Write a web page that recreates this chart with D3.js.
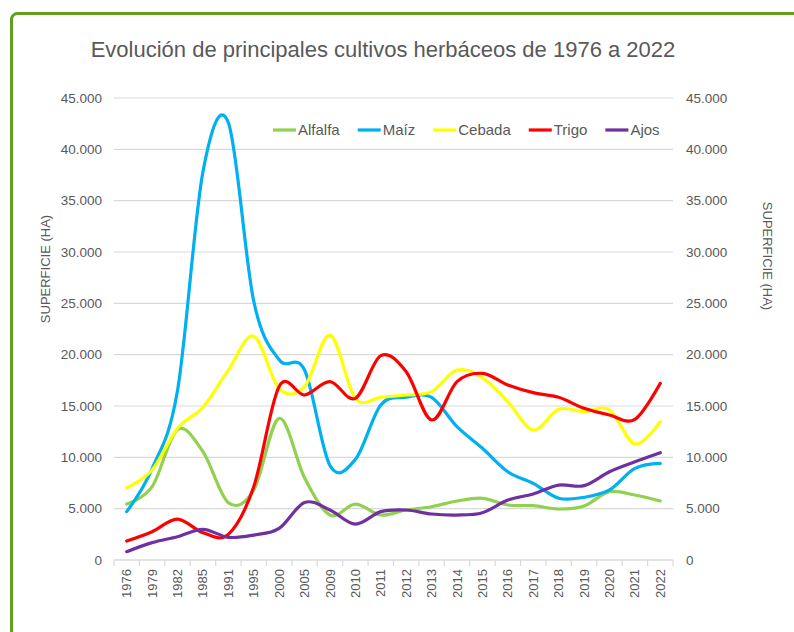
<!DOCTYPE html>
<html>
<head>
<meta charset="utf-8">
<script src="https://cdn.jsdelivr.net/npm/d3@7"></script>
<style>
  body { margin: 0; background: #fff; }
  text { font-family: "Liberation Sans", Arial, sans-serif; }
</style>
</head>
<body>
<svg id="chart" width="794" height="632"></svg>
<script>
const years = ["1976", "1979", "1982", "1985", "1991", "1995", "2000", "2005", "2009", "2010", "2011",
  "2012", "2013", "2014", "2015", "2016", "2017", "2018", "2019", "2020", "2021", "2022"];

const alfalfa = [5450, 7140, 12700, 10550, 5580, 6800, 13800, 8000, 4380, 5450, 4380,
  4870, 5190, 5750, 6010, 5360, 5290, 4970, 5260, 6650, 6330, 5750];
const maiz = [4710, 8900, 16500, 37800, 42600, 25200, 19500, 18500, 9200, 9800, 15100,
  15850, 15850, 12980, 10880, 8600, 7470, 6010, 6110, 6820, 8930, 9420];
const cebada = [7040, 8770, 12830, 14870, 18500, 21800, 16700, 16880, 21900, 15750, 15850,
  16070, 16400, 18500, 17750, 15420, 12660, 14680, 14450, 14610, 11300, 13470];
const trigo = [1850, 2760, 3990, 2660, 2500, 7140, 16900, 16070, 17370, 15750, 19900,
  18340, 13640, 17370, 18180, 17050, 16300, 15850, 14770, 14120, 13700, 17210];
const ajos = [810, 1690, 2270, 2990, 2210, 2430, 3080, 5600, 4870, 3500, 4710,
  4870, 4480, 4380, 4610, 5840, 6430, 7300, 7240, 8600, 9570, 10450];

const seriesNames = ["Alfalfa", "Maíz", "Cebada", "Trigo", "Ajos"];
const seriesColors = ["#92d050", "#00b0f0", "#ffff00", "#ff0000", "#7030a0"];
const seriesValues = [alfalfa, maiz, cebada, trigo, ajos];

const yTicks = d3.range(0, 45001, 5000);

const svg = d3.select("#chart");
const margin = { top: 98, right: 121, bottom: 72, left: 114 };
const width = 794, height = 632;
const textColor = "#595959";
const gridColor = "#d9d9d9";

const locale = d3.formatLocale({ decimal: ",", thousands: ".", grouping: [3], currency: ["", " €"] });
const fmt = locale.format(",");

// green frame
svg.append("rect")
  .attr("x", 11.5).attr("y", 13.5)
  .attr("width", 900).attr("height", 900)
  .attr("rx", 6)
  .attr("fill", "none")
  .attr("stroke", "#62a01c")
  .attr("stroke-width", 3);

svg.append("text")
  .attr("x", 383).attr("y", 57)
  .attr("text-anchor", "middle")
  .attr("font-size", 22)
  .attr("fill", textColor)
  .text("Evolución de principales cultivos herbáceos de 1976 a 2022");

const xScale = d3.scaleBand()
  .domain(years)
  .range([margin.left, width - margin.right])
  .padding(0);

const yScale = d3.scaleLinear()
  .domain([0, 45000])
  .range([height - margin.bottom, margin.top]);

const xc = (d) => xScale(d) + xScale.bandwidth() / 2;

// gridlines
svg.append("g")
  .selectAll("line")
  .data(yTicks)
  .join("line")
  .attr("x1", margin.left)
  .attr("x2", width - margin.right)
  .attr("y1", (d) => yScale(d))
  .attr("y2", (d) => yScale(d))
  .attr("stroke", gridColor)
  .attr("stroke-width", 1.2);

// left axis
const leftAxis = svg.append("g")
  .attr("transform", `translate(${margin.left},0)`)
  .call(d3.axisLeft(yScale).tickValues(yTicks).tickSize(0).tickPadding(12).tickFormat(fmt));
leftAxis.select(".domain").remove();
leftAxis.selectAll("text").attr("font-size", 13.5).attr("fill", textColor)
  .style("font-family", "'Liberation Sans', Arial, sans-serif");

// right axis
const rightAxis = svg.append("g")
  .attr("transform", `translate(${width - margin.right},0)`)
  .call(d3.axisRight(yScale).tickValues(yTicks).tickSize(0).tickPadding(13).tickFormat(fmt));
rightAxis.select(".domain").remove();
rightAxis.selectAll("text").attr("font-size", 13.5).attr("fill", textColor)
  .style("font-family", "'Liberation Sans', Arial, sans-serif");

// bottom axis
const bottom = svg.append("g")
  .attr("transform", `translate(0,${height - margin.bottom})`);
bottom.append("line")
  .attr("x1", margin.left).attr("x2", width - margin.right)
  .attr("stroke", gridColor).attr("stroke-width", 1.2);
bottom.selectAll("line.tick")
  .data(years.concat(["end"]))
  .join("line")
  .attr("class", "tick")
  .attr("x1", (d, i) => margin.left + i * xScale.bandwidth())
  .attr("x2", (d, i) => margin.left + i * xScale.bandwidth())
  .attr("y1", 0).attr("y2", 6)
  .attr("stroke", gridColor).attr("stroke-width", 1.2);
bottom.selectAll("text")
  .data(years)
  .join("text")
  .attr("transform", (d) => `translate(${xc(d)},9) rotate(-90)`)
  .attr("text-anchor", "end")
  .attr("dy", "0.35em")
  .attr("font-size", 13)
  .attr("fill", textColor)
  .text((d) => d);

// axis titles
svg.append("text")
  .attr("transform", "translate(45,269) rotate(-90)")
  .attr("text-anchor", "middle")
  .attr("dy", "0.35em")
  .attr("font-size", 13)
  .attr("fill", textColor)
  .text("SUPERFICIE (HA)");
svg.append("text")
  .attr("transform", "translate(768,256) rotate(90)")
  .attr("text-anchor", "middle")
  .attr("dy", "0.35em")
  .attr("font-size", 13)
  .attr("fill", textColor)
  .text("SUPERFICIE (HA)");

// lines
const line = d3.line()
  .x((d, i) => xc(years[i]))
  .y((d) => yScale(d))
  .curve(d3.curveCatmullRom.alpha(0));

svg.append("g")
  .selectAll("path")
  .data(seriesValues)
  .join("path")
  .attr("d", (d) => line(d))
  .attr("fill", "none")
  .attr("stroke", (d, i) => seriesColors[i])
  .attr("stroke-width", 3.2)
  .attr("stroke-linecap", "round")
  .attr("stroke-linejoin", "round");

// legend
const legend = svg.append("g").attr("transform", "translate(273,130)");
let lx = 0;
seriesNames.forEach((name, i) => {
  const g = legend.append("g").attr("transform", `translate(${lx},0)`);
  g.append("line")
    .attr("x1", 0).attr("x2", 23)
    .attr("stroke", seriesColors[i])
    .attr("stroke-width", 3.2);
  const t = g.append("text")
    .attr("x", 25)
    .attr("dy", "0.35em")
    .attr("font-size", 15)
    .attr("fill", textColor)
    .text(name);
  lx += 25 + t.node().getComputedTextLength() + 18;
});
</script>
</body>
</html>
